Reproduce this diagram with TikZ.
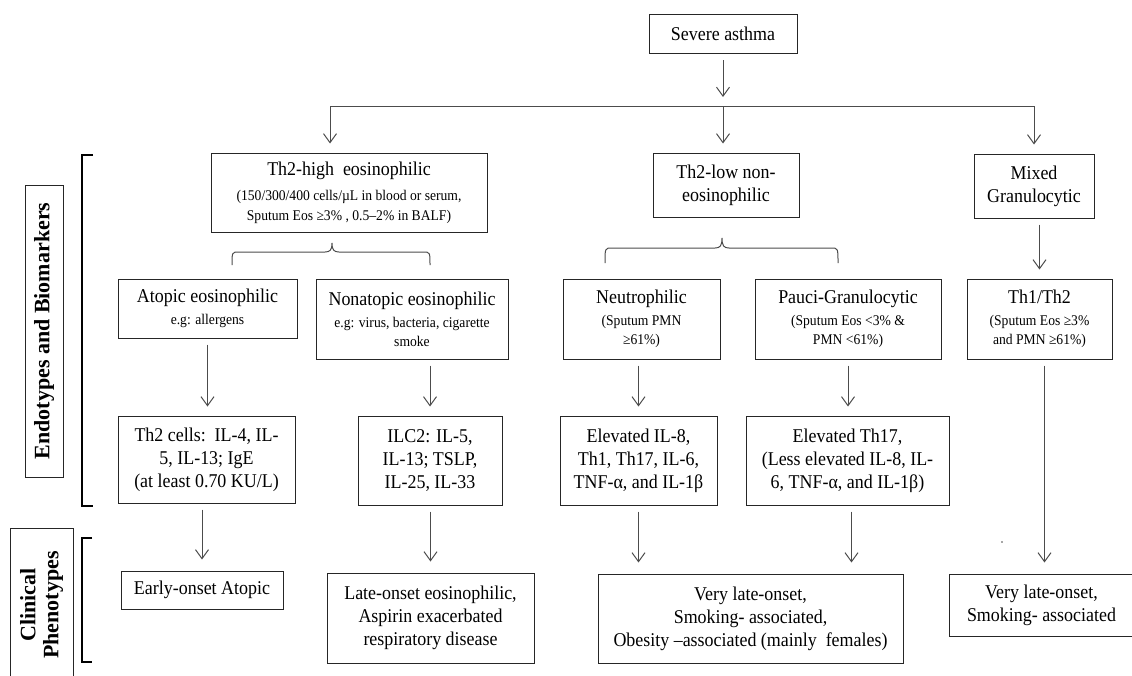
\documentclass[tikz,border=0pt]{standalone}
\usepackage{fontspec}
\setmainfont[FakeStretch=0.92]{Liberation Serif}
\newfontfamily\labfamily{Liberation Serif}
\usetikzlibrary{arrows.meta,calc}
\newcommand\mainf{\fontsize{19.5}{23}\selectfont}
\newcommand\smallf{\fontsize{14.8}{19}\selectfont}
\newcommand\labf{\labfamily\fontsize{22}{23}\selectfont\bfseries}
\newcommand\mybrace[6]{\draw[brc] (#1,#6) .. controls (#1,#5) and (#1,#5) .. (#1+7,#5) -- (#3-7,#5) .. controls (#3-2,#5) and (#3,#5-2) .. (#3,#4) .. controls (#3,#5-2) and (#3+2,#5) .. (#3+7,#5) -- (#2-7,#5) .. controls (#2,#5) and (#2,#5) .. (#2,#6);}
\begin{document}
\begin{tikzpicture}[x=1pt,y=-1pt,
  box/.style={draw=black!85, line width=1pt, align=center, inner sep=2pt, font=\mainf, text=black},
  lab/.style={draw=black!85, line width=1pt, align=center, inner sep=2pt, font=\labf, text=black},
  arr/.style={draw=black!70, line width=1pt, -{Straight Barb[length=9pt,width=13pt,line width=1pt]}, shorten <=6pt, shorten >=9pt},
  arrb/.style={arr, shorten >=11pt},
  ln/.style={draw=black!70, line width=1pt},
  brc/.style={draw=black!70, line width=1pt},
  brk/.style={draw=black, line width=1.8pt}]
\useasboundingbox (0,0) rectangle (1132,675);

% top
\node[box, minimum width=148pt, minimum height=39pt] (sev) at (723,34) {Severe asthma};
\coordinate (hl) at (330,106);
\coordinate (hm) at (723,106);
\coordinate (hr) at (1034,106);

% level 1
\node[box, minimum width=276pt, minimum height=79pt] (th2h) at (349,192.5) {Th2-high\ \ eosinophilic\\[2pt]
  {\smallf (150/300/400 cells/µL in blood or serum,}\\[-3pt]
  {\smallf Sputum Eos ≥3\% , 0.5–2\% in BALF)}};
\node[box, minimum width=146pt, minimum height=64pt] (th2l) at (726,185) {Th2-low non-\\eosinophilic};
\node[box, minimum width=120pt, minimum height=64pt] (mix) at (1034,186) {Mixed\\Granulocytic};

% level 2
\node[box, minimum width=179pt, minimum height=59pt] (atop) at (207.5,308.5) {Atopic eosinophilic\\[-1pt]{\smallf e.g: allergens}};
\node[box, minimum width=192pt, minimum height=80pt] (nonat) at (412,319) {Nonatopic eosinophilic\\[-1pt]{\smallf e.g: virus, bacteria, cigarette}\\[-4pt]{\smallf smoke}};
\node[box, minimum width=157pt, minimum height=80pt] (neut) at (641.5,319) {Neutrophilic\\[-1pt]{\smallf (Sputum PMN}\\[-4pt]{\smallf ≥61\%)}};
\node[box, minimum width=186pt, minimum height=80pt] (pauci) at (848,319) {Pauci-Granulocytic\\[-1pt]{\smallf (Sputum Eos <3\% \&}\\[-4pt]{\smallf PMN <61\%)}};
\node[box, minimum width=145pt, minimum height=80pt] (th12) at (1039.5,319) {Th1/Th2\\[-1pt]{\smallf (Sputum Eos ≥3\%}\\[-4pt]{\smallf and PMN ≥61\%)}};

% level 3
\node[box, minimum width=177pt, minimum height=87pt] (th2c) at (206.5,459.5) {Th2 cells:\ \ IL-4, IL-\\5, IL-13; IgE\\(at least 0.70 KU/L)};
\node[box, minimum width=144pt, minimum height=89pt] (ilc2) at (430,460.5) {ILC2: IL-5,\\IL-13; TSLP,\\IL-25, IL-33};
\node[box, minimum width=157pt, minimum height=89pt] (elev8) at (638.5,460.5) {Elevated IL-8,\\Th1, Th17, IL-6,\\TNF-α, and IL-1β};
\node[box, minimum width=203pt, minimum height=89pt] (elev17) at (847.5,460.5) {Elevated Th17,\\(Less elevated IL-8, IL-\\6, TNF-α, and IL-1β)};

% level 4
\node[box, minimum width=162pt, minimum height=38pt] (early) at (202,590) {Early-onset Atopic};
\node[box, minimum width=207pt, minimum height=90pt] (late) at (430.5,618) {Late-onset eosinophilic,\\Aspirin exacerbated\\respiratory disease};
\node[box, minimum width=305pt, minimum height=89pt] (mid) at (750.5,618.5) {Very late-onset,\\Smoking- associated,\\Obesity –associated (mainly\ \ females)};
\node[box, minimum width=185pt, minimum height=62pt] (right) at (1041.5,605) {Very late-onset,\\Smoking- associated};

% side labels
\node[lab, rotate=90, minimum width=292pt, minimum height=38pt] (endo) at (44,331) {Endotypes and Biomarkers};
\node[lab, rotate=90, minimum width=154pt, minimum height=63pt] (clin) at (41.5,605) {Clinical\\Phenotypes};
\draw[brk] (93,155) -- (82,155) -- (82,506) -- (93,506);
\draw[brk] (92,538) -- (82,538) -- (82,662) -- (92,662);

% connectors
\draw[arr] (sev) -- (hm);
\draw[ln] (hl) -- (hr);
\draw[arr, shorten <=0pt] (hl) -- (hl |- th2h.north);
\draw[arr, shorten <=0pt] (hm) -- (hm |- th2l.north);
\draw[arr, shorten <=0pt] (hr) -- (hr |- mix.north);
\draw[arr] (th12 |- mix.south) -- (th12);

\mybrace{232}{430}{332}{243}{252}{265}
\mybrace{605}{838}{722}{238}{248}{263}

\draw[arr] (atop) -- (atop |- th2c.north);
\draw[arr] (ilc2 |- nonat.south) -- (ilc2);
\draw[arr] (elev8 |- neut.south) -- (elev8);
\draw[arr] (pauci) -- (pauci |- elev17.north);

\draw[arrb] (early |- th2c.south) -- (early);
\draw[arrb] (late |- ilc2.south) -- (late);
\draw[arrb] (elev8) -- (elev8 |- mid.north);
\draw[arrb] ([xshift=4pt]elev17.south) -- ([xshift=4pt]elev17.south |- mid.north);
\draw[arrb] ([xshift=5pt]th12.south) -- ([xshift=5pt]th12.south |- right.north);

\fill[black!70] (1002,542) circle (0.9);
\end{tikzpicture}
\end{document}
